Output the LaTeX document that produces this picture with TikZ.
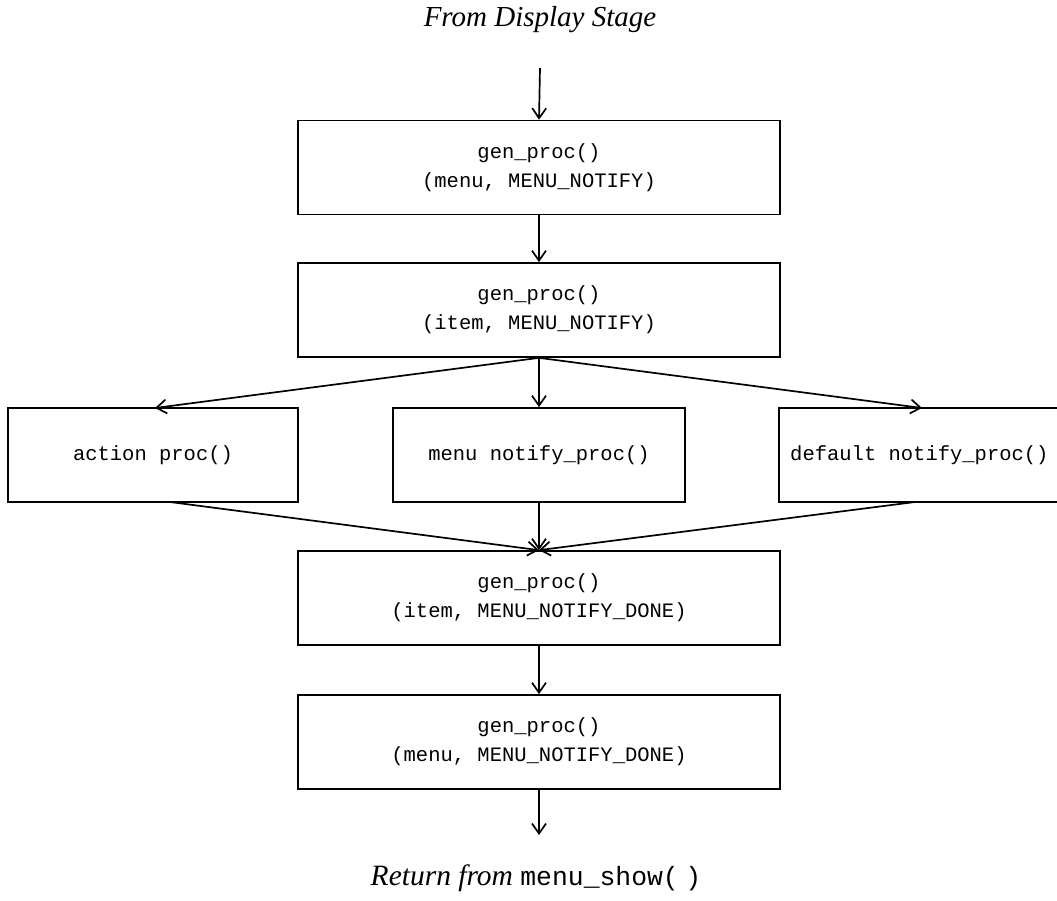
\documentclass[tikz,border=0pt]{standalone}
\usepackage{fontspec}
\setmainfont{Liberation Serif}
\setmonofont{Liberation Mono}
\usetikzlibrary{arrows.meta}
\begin{document}
\begin{tikzpicture}[x=1pt,y=-1pt,
  box/.style={draw, line width=1.7pt, inner sep=0pt, align=center,
    font=\ttfamily\fontsize{20.5}{29}\selectfont},
  conn/.style={line width=1.7pt, -{Straight Barb[length=10pt,width=14pt,line width=1.7pt]}},
  lbl/.style={inner sep=0pt, font=\itshape\fontsize{29}{34}\selectfont}]
\useasboundingbox (0,0) rectangle (1057,901);
\clip (0,0) rectangle (1057,901);
\node[lbl] (top) at (540,20) {From Display Stage};
\coordinate (topstart) at (540,68);
\node[box, minimum width=482pt, minimum height=94pt] (b1) at (539,167.5) {gen\_proc()\\(menu, MENU\_NOTIFY)};
\node[box, minimum width=482pt, minimum height=94pt] (b2) at (539,310) {gen\_proc()\\(item, MENU\_NOTIFY)};
\node[box, minimum width=290pt, minimum height=94pt] (a) at (153,455) {action proc()};
\node[box, minimum width=292pt, minimum height=94pt] (m) at (539,455) {menu notify\_proc()};
\node[box, minimum width=300pt, minimum height=94pt, anchor=west] (d) at (778,455) {};
\node[font=\ttfamily\fontsize{20.5}{29}\selectfont, anchor=west, inner sep=0pt] (dt) at (790,455) {default notify\_proc()};
\node[box, minimum width=482pt, minimum height=94pt] (b4) at (539,598) {gen\_proc()\\(item, MENU\_NOTIFY\_DONE)};
\node[box, minimum width=482pt, minimum height=94pt] (b5) at (539,742) {gen\_proc()\\(menu, MENU\_NOTIFY\_DONE)};
\coordinate (botend) at (539,835);
\node[inner sep=0pt, anchor=base] (bot) at (536,885) {\itshape\fontsize{29.5}{34}\selectfont Return from\ \upshape\ttfamily\fontsize{26.4}{30}\selectfont menu\_show(\hspace{0.25em})};
\draw[conn] (topstart) -- (b1.north);
\draw[conn] (b1.south) -- (b2.north);
\draw[conn] (b2.south) -- (155,408);
\draw[conn] (b2.south) -- (m.north);
\draw[conn] (b2.south) -- (922,408);
\draw[conn] (170,502) -- (b4.north);
\draw[conn] (m.south) -- (b4.north);
\draw[conn] (915,502) -- (b4.north);
\draw[conn] (b4.south) -- (b5.north);
\draw[conn] (b5.south) -- (botend);
\end{tikzpicture}
\end{document}
